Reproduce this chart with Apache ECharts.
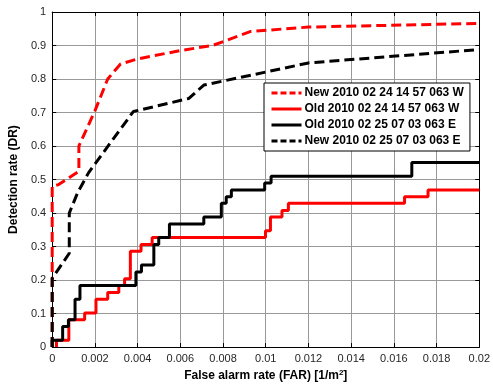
<!DOCTYPE html>
<html>
<head>
<meta charset="utf-8">
<script src="https://cdn.jsdelivr.net/npm/echarts@6/dist/echarts.min.js"></script>
<style>
html,body{margin:0;padding:0;background:#fff;}
#chart{width:493px;height:387px;}
</style>
</head>
<body>
<div id="chart"></div>
<script>
// legend names
var names = [
    'New 2010 02 24 14 57 063 W',
    'Old 2010 02 24 14 57 063 W',
    'Old 2010 02 25 07 03 063 E',
    'New 2010 02 25 07 03 063 E'
];
var xTicks = [0, 0.002, 0.004, 0.006, 0.008, 0.01, 0.012, 0.014, 0.016, 0.018, 0.02];
var yTicks = [0, 0.1, 0.2, 0.3, 0.4, 0.5, 0.6, 0.7, 0.8, 0.9, 1];

// new W (red dashed) [FAR, DR]
var newW = [[0,0],[0,0.48],[0.0003,0.485],[0.00125,0.525],[0.00125,0.6],[0.002,0.705],
    [0.0026,0.8],[0.0032,0.845],[0.004,0.86],[0.006,0.885],[0.0075,0.9],[0.0093,0.942],
    [0.012,0.955],[0.02,0.966]];
// new E (black dashed)
var newE = [[0,0],[0,0.205],[0.0008,0.28],[0.0008,0.4],[0.0012,0.462],[0.0017,0.52],
    [0.0038,0.703],[0.0064,0.742],[0.0071,0.782],[0.0095,0.814],[0.012,0.848],[0.02,0.888]];
// old W (red steps) - x where step happens, new DR
var oldW = [[0.0002,0],[0.0002,0.0204],[0.00078,0.0816],[0.00152,0.102],[0.00205,0.143],
    [0.0026,0.163],[0.00312,0.184],[0.00339,0.204],[0.00366,0.286],[0.00416,0.306],
    [0.00468,0.327],[0.00999,0.347],[0.01022,0.388],[0.01076,0.408],[0.01106,0.429],
    [0.0165,0.449],[0.0176,0.469],[0.02,0.469]];
// old E (black steps)
var oldE = [[0,0],[0,0.0204],[0.00049,0.0612],[0.00076,0.0816],[0.00107,0.143],[0.0013,0.184],
    [0.00392,0.224],[0.00418,0.245],[0.00476,0.306],[0.00499,0.327],[0.00549,0.367],
    [0.0071,0.388],[0.00792,0.429],[0.00815,0.449],[0.00839,0.469],[0.00995,0.49],
    [0.01025,0.51],[0.01684,0.551],[0.02,0.551]];

var chart = echarts.init(document.getElementById('chart'));

function fmt(v){ return String(parseFloat(v.toFixed(4))); }

var labelStyle = {fontFamily:'Liberation Sans, Arial', fontSize:11, color:'#262626'};
var dash = [10, 5];
var legendDash = [6, 3];

function legendItem(name, color, dashed){
    return {
        name: name,
        itemStyle: {color:'transparent', borderWidth:0, opacity:0},
        lineStyle: {color:color, width:3, type: dashed ? legendDash : 'solid'}
    };
}

var option = {
    animation: false,
    backgroundColor: '#fff',
    grid: {left:46, right:10, top:12, bottom:31, show:false},
    legend: {
        orient: 'vertical',
        left: 264, top: 83,
        width: 208,
        padding: [4, 6, 4, 6],
        itemGap: 4,
        itemWidth: 30, itemHeight: 12,
        borderColor: '#000', borderWidth: 1,
        backgroundColor: '#fff',
        textStyle: {fontFamily:'Liberation Sans, Arial', fontSize:12, fontWeight:'bold', color:'#000', padding:[0,0,0,-2]},
        data: [
            legendItem(names[0], '#ff0000', true),
            legendItem(names[1], '#ff0000', false),
            legendItem(names[2], '#000', false),
            legendItem(names[3], '#000', true)
        ]
    },
    xAxis: [{
        type:'value', min:0, max:0.02, interval:0.002,
        name: 'False alarm rate (FAR) [1/m{sup|2}]',
        nameLocation:'middle', nameGap:17,
        nameTextStyle:{fontFamily:'Liberation Sans, Arial', fontSize:12, fontWeight:'bold', color:'#000',
            rich:{sup:{fontSize:8, fontWeight:'bold', verticalAlign:'top', padding:[0,0,6,0]}}},
        axisLine:{show:true, lineStyle:{color:'#000', width:1}},
        axisTick:{show:true, inside:true, length:4, lineStyle:{color:'#000'}},
        axisLabel:Object.assign({margin:6, formatter:fmt}, labelStyle),
        splitLine:{show:true, lineStyle:{color:'#999', width:1}}
    },{
        type:'value', position:'top', min:0, max:0.02, interval:0.002,
        axisLine:{show:true, onZero:false, lineStyle:{color:'#000', width:1}},
        axisTick:{show:true, inside:true, length:4, lineStyle:{color:'#000'}},
        axisLabel:{show:false}, splitLine:{show:false}
    }],
    yAxis: [{
        type:'value', min:0, max:1, interval:0.1,
        name:'Detection rate (DR)',
        nameLocation:'middle', nameGap:27,
        nameTextStyle:{fontFamily:'Liberation Sans, Arial', fontSize:12, fontWeight:'bold', color:'#000'},
        axisLine:{show:true, lineStyle:{color:'#000', width:1}},
        axisTick:{show:true, inside:true, length:4, lineStyle:{color:'#000'}},
        axisLabel:Object.assign({margin:6, formatter:fmt}, labelStyle),
        splitLine:{show:true, lineStyle:{color:'#999', width:1}}
    },{
        type:'value', position:'right', min:0, max:1, interval:0.1,
        axisLine:{show:true, onZero:false, lineStyle:{color:'#000', width:1}},
        axisTick:{show:true, inside:true, length:4, lineStyle:{color:'#000'}},
        axisLabel:{show:false}, splitLine:{show:false}
    }],
    series: [
        {name:names[1], type:'line', data:oldW, step:'end', symbol:'none', z:3,
            color:'#ff0000', lineStyle:{color:'#ff0000', width:3}},
        {name:names[0], type:'line', data:newW, symbol:'none', z:4,
            color:'#ff0000', lineStyle:{color:'#ff0000', width:3, type:dash}},
        {name:names[2], type:'line', data:oldE, step:'end', symbol:'none', z:5,
            color:'#000', lineStyle:{color:'#000', width:3}},
        {name:names[3], type:'line', data:newE, symbol:'none', z:6,
            color:'#000', lineStyle:{color:'#000', width:3, type:dash}}
    ]
};
chart.setOption(option);
</script>
</body>
</html>
